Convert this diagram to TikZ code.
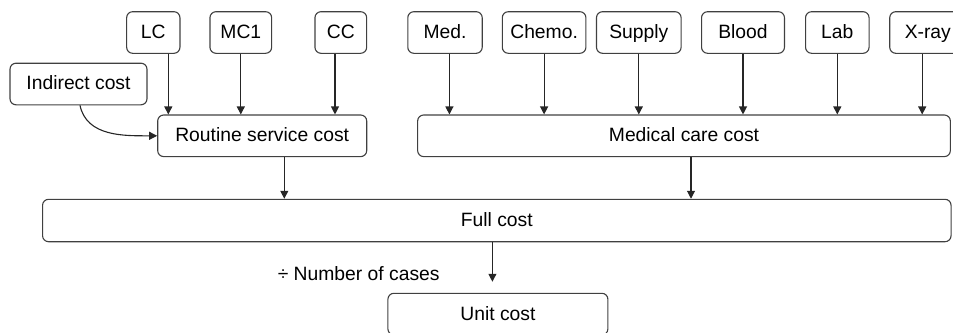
\documentclass[tikz,border=0pt]{standalone}
\usepackage{fontspec}
\setmainfont{Liberation Sans}
\usetikzlibrary{arrows.meta}
\begin{document}
\begin{tikzpicture}[x=1pt,y=-1pt,
  box/.style={draw=black!75, line width=1.1pt, rounded corners=6pt, inner sep=0pt,
    text height=14.8pt, text depth=3pt,
    minimum height=41.6pt, font=\fontsize{19.3}{23}\selectfont},
  arr/.style={-{Triangle[length=8pt,width=8pt]}, line width=1.1pt, draw=black!85}]
\useasboundingbox (0,0) rectangle (953,332);
% top boxes
\node[box, minimum width=53.3pt] (lc) at (153.3,32.5) {LC};
\node[box, minimum width=61.7pt] (mc1) at (240.8,32.5) {MC1};
\node[box, minimum width=51.7pt] (cc) at (340.8,32.5) {CC};
\node[box, minimum width=137pt] (ind) at (78.5,84) {Indirect cost};
\node[box, minimum width=209pt] (routine) at (262.2,135.8) {Routine service cost};
\node[box, minimum width=74.4pt] (med) at (445,32.5) {Med.};
\node[box, minimum width=83.6pt] (chemo) at (544.1,32.5) {Chemo.};
\node[box, minimum width=84.6pt] (supply) at (638.8,32.5) {Supply};
\node[box, minimum width=82.9pt] (blood) at (743,32.5) {Blood};
\node[box, minimum width=63.5pt] (lab) at (837.3,32.5) {Lab};
\node[box, anchor=west, align=left, text width=70pt, inner xsep=15pt] (xray) at (889.2,32.5) {X-ray};
\node[box, minimum width=532.7pt] (medical) at (684,135.8) {Medical care cost};
\node[box, minimum width=908.5pt, minimum height=42.4pt] (full) at (496.8,220.5) {Full cost};
\node[box, minimum width=220pt] (unit) at (497.9,314.1) {Unit cost};
\node[font=\fontsize{19.3}{23}\selectfont, inner sep=0pt] (ncases) at (358.7,274) {÷ Number of cases};
% arrows to routine
\draw[arr] ([xshift=15pt]lc.south) -- ([xshift=15pt]lc.south |- routine.north);
\draw[arr] (mc1.south) -- (mc1.south |- routine.north);
\draw[arr] ([xshift=-5.8pt]cc.south) -- ([xshift=-5.8pt]cc.south |- routine.north);
\draw[arr] ([xshift=1.5pt]ind.south) to[out=-78,in=180] (routine.west);
% arrows to medical
\draw[arr] ([xshift=4.4pt]med.south) -- ([xshift=4.4pt]med.south |- medical.north);
\draw[arr] (chemo.south) -- (chemo.south |- medical.north);
\draw[arr] (supply.south) -- (supply.south |- medical.north);
\draw[arr] (blood.south) -- (blood.south |- medical.north);
\draw[arr] (lab.south) -- (lab.south |- medical.north);
\draw[arr] ([xshift=33pt]xray.south west) -- ([xshift=33pt]xray.south west |- medical.north);
% arrows to full
\draw[arr] ([xshift=22.1pt]routine.south) -- ([xshift=22.1pt]routine.south |- full.north);
\draw[arr] ([xshift=7pt]medical.south) -- ([xshift=7pt]medical.south |- full.north);
% to unit
\draw[arr, shorten >=11pt] ([xshift=-4.4pt]full.south) -- ([xshift=-4.4pt]full.south |- unit.north);
\end{tikzpicture}
\end{document}
